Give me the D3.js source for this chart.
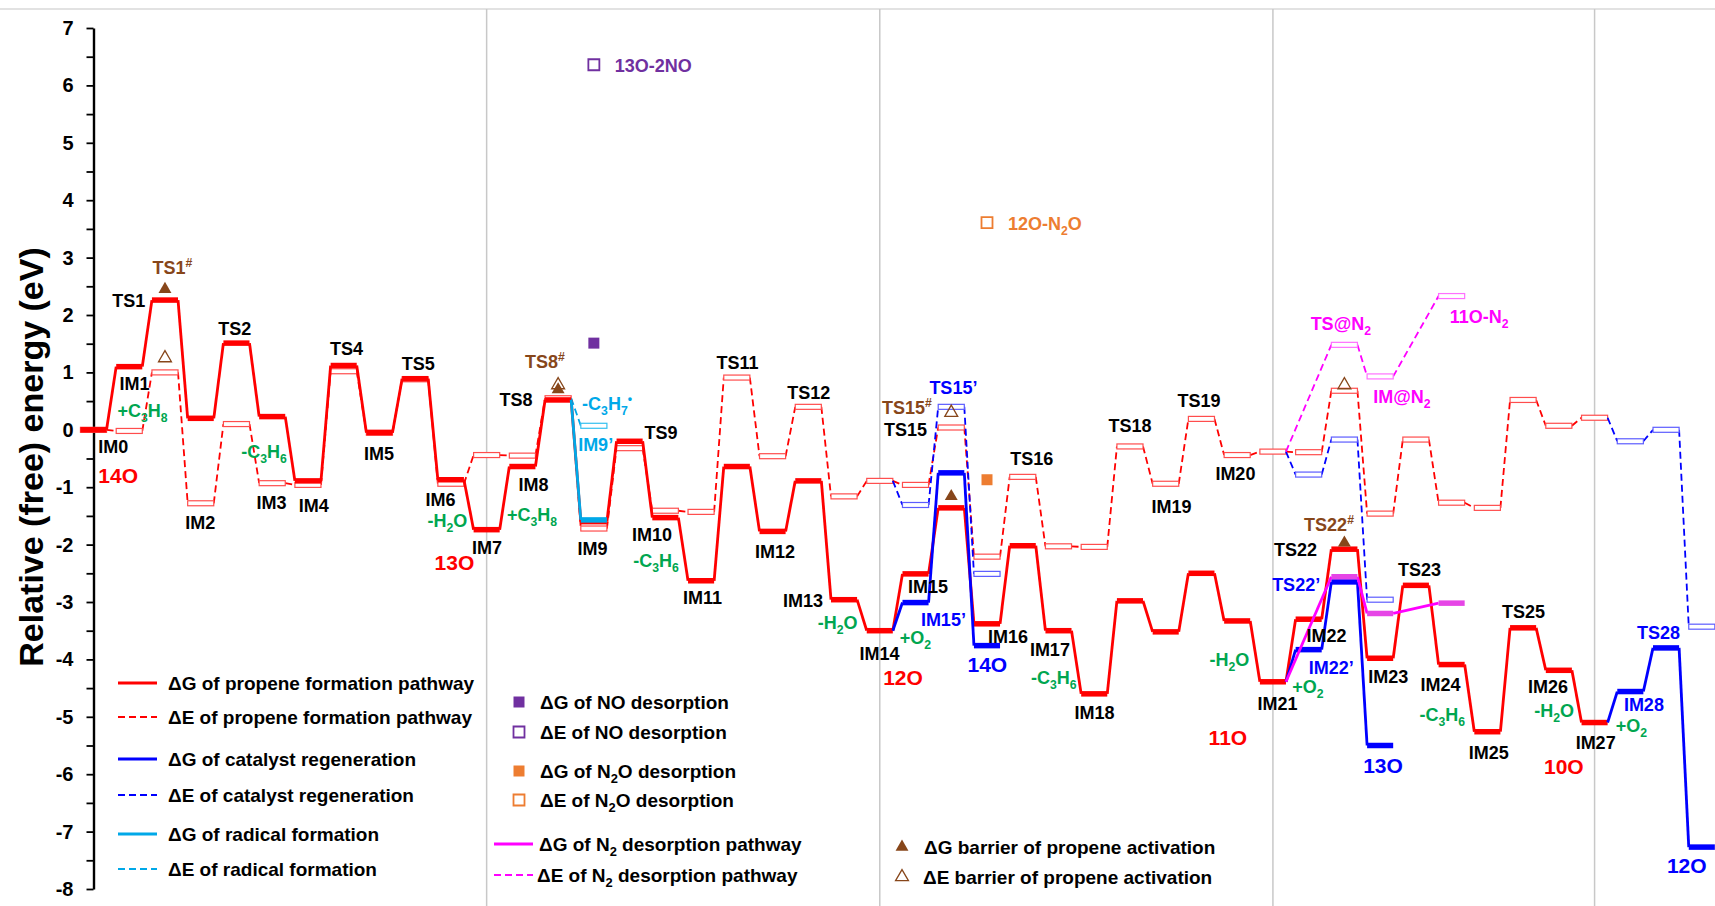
<!DOCTYPE html>
<html>
<head>
<meta charset="utf-8">
<script src="https://cdn.jsdelivr.net/npm/d3@7"></script>
<style>
  body { margin: 0; background: #fff; }
  text { font-family: Arial, "Liberation Sans", sans-serif; font-weight: bold; }
</style>
</head>
<body>
<svg id="chart"></svg>
<script>
// ---- data (energies in eV, x = slot number along the reaction coordinate) ----

// propene formation pathway, slots 0..42
var redNames = ["IM0","IM1","TS1","IM2","TS2","IM3","IM4","TS4","IM5","TS5","IM6","IM7","IM8","TS8","IM9","TS9","IM10","IM11","TS11","IM12","TS12","IM13","IM14","IM15","TS15","IM16","TS16","IM17","IM18","TS18","IM19","TS19","IM20","IM21","IM22","TS22","IM23","TS23","IM24","IM25","TS25","IM26","IM27"];
var redG = [0, 1.10, 2.26, 0.20, 1.51, 0.23, -0.89, 1.12, -0.05, 0.89, -0.87, -1.74, -0.64, 0.52, -1.60, -0.20, -1.53, -2.63, -0.64, -1.77, -0.89, -2.96, -3.50, -2.51, -1.36, -3.38, -2.02, -3.50, -4.60, -2.98, -3.52, -2.50, -3.33, -4.39, -3.30, -2.08, -3.98, -2.71, -4.09, -5.26, -3.45, -4.19, -5.10];
var redE = [0, -0.02, 1.00, -1.28, 0.10, -0.93, -0.96, 1.02, -0.05, 0.88, -0.94, -0.44, -0.45, 0.55, -1.72, -0.32, -1.41, -1.43, 0.91, -0.46, 0.40, -1.16, -0.89, -0.96, 0.04, -2.21, -0.82, -2.03, -2.04, -0.29, -0.94, 0.19, -0.44, -0.38, -0.39, 0.68, -1.46, -0.17, -1.27, -1.36, 0.52, 0.07, 0.21];

// catalyst regeneration branches (blue)
var regenSlots = [[22, 23, 24, 25], [33, 34, 35, 36], [42, 43, 44, 45]];
var regenG = [[-3.50, -3.01, -0.75, -3.76], [-4.39, -3.83, -2.65, -5.50], [-5.10, -4.56, -3.80, -7.27]];
var regenE = [[-0.89, -1.31, 0.40, -2.51], [-0.38, -0.78, -0.17, -2.96], [0.21, -0.20, 0.00, -3.43]];

// radical formation (cyan)
var radicalSlots = [13, 14];
var radicalG = [0.52, -1.57];
var radicalE = [0.55, 0.07];

// N2 desorption pathway (magenta)
var n2Slots = [33, 35, 36, 38];
var n2G = [-4.39, -2.56, -3.20, -3.02];
var n2E = [-0.38, 1.48, 0.93, 2.33];

// barriers of propene activation (brown triangles)
var barrierSlots = [2, 13, 24, 35];
var barrierG = [2.45, 0.70, -1.16, -1.97];
var barrierE = [1.25, 0.78, 0.30, 0.78];

// NO / N2O desorption (squares)
var noSlot = 14, noG = 1.51, noE = 6.36;
var n2oSlot = 25, n2oG = -0.87, n2oE = 3.61;

// vertical separators between oxygen cycles
var dividerSlots = [11, 22, 33, 42];

// annotations: text, slot (centre), energy (baseline), colour key, font size
var labels = [
  ["TS1", 0.99, 2.14, "k"], ["TS1^#", 2.21, 2.72, "br"], ["IM1", 1.15, 0.70, "k"],
  ["+C_3H_8", 1.37, 0.23, "g"], ["IM0", 0.55, -0.40, "k"], ["14O", 0.69, -0.92, "r", 21],
  ["TS2", 3.95, 1.66, "k"], ["IM2", 2.99, -1.72, "k"], ["-C_3H_6", 4.77, -0.49, "g"],
  ["IM3", 4.98, -1.38, "k"], ["IM4", 6.16, -1.43, "k"], ["TS4", 7.08, 1.31, "k"],
  ["IM5", 7.99, -0.52, "k"], ["TS5", 9.09, 1.05, "k"], ["IM6", 9.71, -1.32, "k"],
  ["-H_2O", 9.90, -1.69, "g"], ["13O", 10.10, -2.44, "r", 21], ["IM7", 11.01, -2.16, "k"],
  ["IM8", 12.31, -1.06, "k"], ["+C_3H_8", 12.27, -1.59, "g"], ["TS8", 11.82, 0.42, "k"],
  ["TS8^#", 12.63, 1.08, "br"], ["-C_3H_7^•", 14.37, 0.35, "c"], ["IM9’", 14.05, -0.37, "c"],
  ["TS9", 15.88, -0.16, "k"], ["IM9", 13.96, -2.18, "k"], ["IM10", 15.63, -1.93, "k"],
  ["-C_3H_6", 15.74, -2.39, "g"], ["IM11", 17.04, -3.03, "k"], ["TS11", 18.02, 1.06, "k"],
  ["IM12", 19.07, -2.23, "k"], ["TS12", 20.01, 0.54, "k"], ["IM13", 19.85, -3.08, "k"],
  ["-H_2O", 20.82, -3.47, "g"], ["IM14", 21.99, -4.01, "k"], ["12O", 22.65, -4.44, "r", 21],
  ["+O_2", 23.0, -3.73, "g"], ["IM15", 23.35, -2.84, "k"], ["IM15’", 23.78, -3.41, "b"],
  ["TS15", 22.72, -0.10, "k"], ["TS15^#", 22.76, 0.28, "br"], ["TS15’", 24.06, 0.63, "b"],
  ["14O", 25.01, -4.22, "b", 21], ["IM16", 25.59, -3.71, "k"], ["TS16", 26.25, -0.61, "k"],
  ["IM17", 26.76, -3.94, "k"], ["-C_3H_6", 26.87, -4.43, "g"], ["IM18", 28.01, -5.03, "k"],
  ["TS18", 29.0, -0.03, "k"], ["IM19", 30.16, -1.45, "k"], ["TS19", 30.93, 0.40, "k"],
  ["IM20", 31.95, -0.87, "k"], ["-H_2O", 31.78, -4.11, "g"], ["11O", 31.74, -5.49, "r", 21],
  ["IM21", 33.13, -4.88, "k"], ["TS22", 33.63, -2.20, "k"], ["TS22^#", 34.57, -1.76, "br"],
  ["TS22’", 33.65, -2.80, "b"], ["IM22", 34.50, -3.69, "k"], ["IM22’", 34.63, -4.25, "b"],
  ["+O_2", 33.98, -4.58, "g"], ["13O", 36.08, -5.98, "b", 21], ["IM23", 36.23, -4.41, "k"],
  ["TS23", 37.10, -2.54, "k"], ["IM24", 37.69, -4.55, "k"], ["-C_3H_6", 37.74, -5.07, "g"],
  ["IM25", 39.04, -5.73, "k"], ["TS25", 40.01, -3.28, "k"], ["IM26", 40.70, -4.58, "k"],
  ["-H_2O", 40.87, -5.00, "g"], ["10O", 41.14, -5.99, "r", 21], ["IM27", 42.03, -5.56, "k"],
  ["IM28", 43.38, -4.90, "b"], ["+O_2", 43.03, -5.26, "g"], ["TS28", 43.79, -3.64, "b"],
  ["12O", 44.58, -7.72, "b", 21], ["TS@N_2", 34.90, 1.74, "m"], ["IM@N_2", 36.61, 0.47, "m"],
  ["11O-N_2", 38.77, 1.86, "m"], ["13O-2NO", 15.66, 6.24, "p"], ["12O-N_2O", 26.62, 3.48, "o"]
];

var colors = {
  k: "#000000", r: "#ff0000", b: "#0000ff", g: "#00a650", c: "#00a8e8",
  m: "#ff00ff", br: "#87461a", p: "#7030a0", o: "#ed7d31"
};

// ---- layout ----
var width = 1715, height = 906;
var svg = d3.select("#chart").attr("width", width).attr("height", height);

var x = d3.scaleLinear().domain([0, 45]).range([93.5, 1701.8]);
var y = d3.scaleLinear().domain([-8, 7]).range([889, 28]);
var hw = 0.365; // half width of a level, in slots

// frame: top rule + cycle separators
svg.append("line").attr("x1", 0).attr("x2", width).attr("y1", 9).attr("y2", 9)
   .attr("stroke", "#d9d9d9").attr("stroke-width", 1.5);
svg.selectAll("line.div").data(dividerSlots).enter().append("line")
   .attr("class", "div")
   .attr("x1", d => x(d)).attr("x2", d => x(d))
   .attr("y1", 9).attr("y2", height)
   .attr("stroke", "#c8c8c8").attr("stroke-width", 1.5);

// y axis
var yAxis = d3.axisLeft(y)
  .tickValues(d3.range(-8, 7.01, 0.5))
  .tickSize(7).tickSizeOuter(0)
  .tickFormat(d => Number.isInteger(d) ? d : "");
var ax = svg.append("g").attr("transform", "translate(" + x(0) + ",0)").call(yAxis);
ax.select(".domain").attr("stroke", "#000").attr("stroke-width", 2.4);
ax.selectAll(".tick line").attr("stroke", "#000").attr("stroke-width", 1.8);
ax.selectAll(".tick text").attr("x", -20).style("font-size", "20px")
  .style("font-family", "Arial, 'Liberation Sans', sans-serif").style("font-weight", "bold").attr("fill", "#000");

svg.append("text")
   .attr("transform", "translate(43,457) rotate(-90)")
   .attr("text-anchor", "middle")
   .style("font-size", "34px")
   .text("Relative (free) energy  (eV)");

var plot = svg.append("g");

// draws one profile: connectors + level markers
function drawProfile(slots, vals, color, dashed, skipFirst, barColor) {
  var pts = slots.map((s, i) => ({s: s, v: vals[i]}));
  var g = plot.append("g");
  g.selectAll("line.link").data(d3.pairs(pts)).enter().append("line")
    .attr("x1", d => x(d[0].s + hw)).attr("y1", d => y(d[0].v))
    .attr("x2", d => x(d[1].s - hw)).attr("y2", d => y(d[1].v))
    .attr("stroke", color)
    .attr("stroke-width", dashed ? 1.8 : 2.8)
    .attr("stroke-dasharray", dashed ? "7,4" : null);
  var lv = skipFirst ? pts.slice(1) : pts;
  if (dashed) {
    g.selectAll("rect").data(lv).enter().append("rect")
      .attr("x", d => x(d.s - hw)).attr("width", d => x(d.s + hw) - x(d.s - hw))
      .attr("y", d => y(d.v) - 2.5).attr("height", 5)
      .attr("fill", "#fff").attr("stroke", barColor || color).attr("stroke-width", 1.2);
  } else {
    g.selectAll("line.lvl").data(lv).enter().append("line")
      .attr("x1", d => x(d.s - hw)).attr("x2", d => x(d.s + hw))
      .attr("y1", d => y(d.v)).attr("y2", d => y(d.v))
      .attr("stroke", barColor || color).attr("stroke-width", 5.5);
  }
}

var redSlots = redNames.map((n, i) => i);

// energies (dashed) first, free energies on top
drawProfile(redSlots, redE, "#ff0000", true, false, "#ff4d4d");
drawProfile(radicalSlots, radicalE, colors.c, true, true, "#33c0f0");
regenSlots.forEach((s, i) => drawProfile(s, regenE[i], "#0000ff", true, true, "#5c5cff"));
drawProfile(n2Slots, n2E, "#ff00ff", true, true, "#ff70ff");

drawProfile(redSlots, redG, "#ff0000", false, false);
drawProfile(radicalSlots, radicalG, colors.c, false, true);
regenSlots.forEach((s, i) => drawProfile(s, regenG[i], "#0000ff", false, true));
drawProfile(n2Slots, n2G, "#ff00ff", false, true, "#e645e6");

// markers
var tri = d3.symbol(d3.symbolTriangle, 72);
var sq = d3.symbol(d3.symbolSquare, 121);
plot.selectAll("path.bg").data(barrierSlots).enter().append("path")
  .attr("d", tri).attr("transform", (d, i) => "translate(" + x(d) + "," + y(barrierG[i]) + ")")
  .attr("fill", colors.br);
plot.selectAll("path.be").data(barrierSlots).enter().append("path")
  .attr("d", tri).attr("transform", (d, i) => "translate(" + x(d) + "," + y(barrierE[i]) + ")")
  .attr("fill", "none").attr("stroke", colors.br).attr("stroke-width", 1.3);

function square(slot, v, color, filled) {
  plot.append("path").attr("d", sq)
    .attr("transform", "translate(" + x(slot) + "," + y(v) + ")")
    .attr("fill", filled ? color : "#fff").attr("stroke", color).attr("stroke-width", filled ? 0 : 1.8);
}
square(noSlot, noG, colors.p, true);
square(noSlot, noE, colors.p, false);
square(n2oSlot, n2oG, colors.o, true);
square(n2oSlot, n2oE, colors.o, false);

// text with _x subscripts and ^x superscripts
function rich(t, str, size) {
  var parts = [], buf = "", i = 0;
  while (i < str.length) {
    var c = str[i];
    if ((c === "_" || c === "^") && i + 1 < str.length) {
      if (buf) parts.push({t: buf, k: 0});
      buf = "";
      parts.push({t: str[i + 1], k: c === "_" ? 1 : -1});
      i += 2;
    } else { buf += c; i++; }
  }
  if (buf) parts.push({t: buf, k: 0});
  var shift = 0;
  parts.forEach(function(p) {
    var target = p.k === 1 ? size * 0.28 : (p.k === -1 ? -size * 0.36 : 0);
    t.append("tspan").text(p.t)
      .attr("dy", target - shift)
      .style("font-size", p.k ? (size * 0.68) + "px" : null);
    shift = target;
  });
}

labels.forEach(function(l) {
  var size = l[4] || 18;
  var t = plot.append("text")
    .attr("x", x(l[1])).attr("y", y(l[2]))
    .attr("text-anchor", "middle")
    .attr("fill", colors[l[3]])
    .style("font-size", size + "px");
  rich(t, l[0], size);
});

// ---- legends ----
var lg = svg.append("g").style("font-size", "19px");
function legText(xp, yp, str) {
  var t = lg.append("text").attr("x", xp).attr("y", yp + 6.5).style("font-size", "19px");
  rich(t, str, 19);
}
function legLine(x1, x2, yp, color, dashed) {
  lg.append("line").attr("x1", x1).attr("x2", x2).attr("y1", yp).attr("y2", yp)
    .attr("stroke", color).attr("stroke-width", dashed ? 1.8 : 3)
    .attr("stroke-dasharray", dashed ? "7,4" : null);
}

var leftItems = [
  ["#ff0000", false, "ΔG of propene formation pathway", 683],
  ["#ff0000", true, "ΔE of propene formation pathway", 717],
  ["#0000ff", false, "ΔG of catalyst regeneration", 759],
  ["#0000ff", true, "ΔE of catalyst regeneration", 795],
  [colors.c, false, "ΔG of radical formation", 834],
  [colors.c, true, "ΔE of radical formation", 869]
];
leftItems.forEach(function(d) {
  legLine(118, 157, d[3], d[0], d[1]);
  legText(168, d[3], d[2]);
});

var squareItems = [
  [colors.p, true, "ΔG of NO desorption", 702],
  [colors.p, false, "ΔE of NO desorption", 732],
  [colors.o, true, "ΔG of N_2O desorption", 771],
  [colors.o, false, "ΔE of N_2O desorption", 800]
];
squareItems.forEach(function(d) {
  lg.append("path").attr("d", sq).attr("transform", "translate(519," + d[3] + ")")
    .attr("fill", d[1] ? d[0] : "#fff").attr("stroke", d[0]).attr("stroke-width", d[1] ? 0 : 1.8);
  legText(540, d[3], d[2]);
});
legLine(494, 533, 844, "#ff00ff", false);
legText(539, 844, "ΔG of N_2 desorption pathway");
legLine(494, 533, 875, "#ff00ff", true);
legText(537, 875, "ΔE of N_2 desorption pathway");

lg.append("path").attr("d", tri).attr("transform", "translate(902,847)").attr("fill", colors.br);
legText(924, 847, "ΔG barrier of propene activation");
lg.append("path").attr("d", tri).attr("transform", "translate(902,877)")
  .attr("fill", "none").attr("stroke", colors.br).attr("stroke-width", 1.3);
legText(923, 877, "ΔE barrier of propene activation");
</script>
</body>
</html>
